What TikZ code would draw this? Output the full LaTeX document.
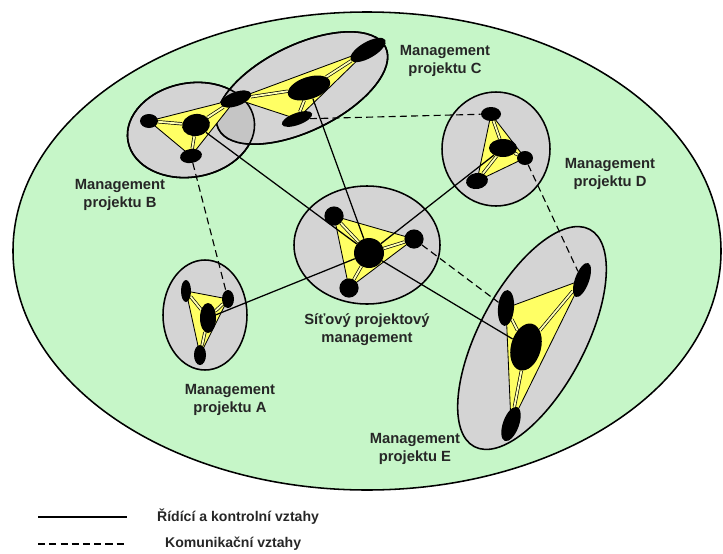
\documentclass[tikz,border=0pt]{standalone}
\usepackage{fontspec}
\setmainfont{Liberation Sans}
\usepackage{xcolor}
\usepackage{tikz}
\usetikzlibrary{backgrounds,calc,positioning,shapes.geometric}

\definecolor{areagreen}{RGB}{198,246,200}
\definecolor{ringgray}{RGB}{212,212,212}
\definecolor{teamyellow}{RGB}{255,255,100}

\begin{document}
\begin{tikzpicture}[x=0.025cm,y=-0.025cm]

\useasboundingbox (0,0) rectangle (723,553);

\tikzstyle{mydot}=[fill,shape=ellipse,inner sep=0pt,minimum width=0.48cm,minimum height=0.48cm];
\tikzstyle{ring}=[fill=ringgray,draw=black,line width=1.1pt];
\tikzstyle{team}=[fill=teamyellow,draw=black,line width=0.6pt,line join=round];
\tikzstyle{spoke}=[draw=black,line width=0.5pt,double=teamyellow!50!white,double distance=1.3pt];
\tikzstyle{ctrl}=[black,line width=0.9pt];
\tikzstyle{comm}=[black,line width=0.8pt,dash pattern=on 5pt off 3pt];
\tikzstyle{mytext}=[font=\bfseries\fontsize{10.5}{12.6}\selectfont,align=center,text=black!85];
\tikzstyle{legtext}=[font=\bfseries\fontsize{10}{12}\selectfont,text=black!85];

% projekt B
\node [mydot,minimum width=0.45cm,minimum height=0.35cm] (bl) at (149,121) {};
\node [mydot,minimum width=0.7cm,minimum height=0.55cm,rotate=10] (bm) at (196,125) {};
\node [mydot,minimum width=0.55cm,minimum height=0.35cm,rotate=10] (bb) at (191,156) {};
\node [mydot,minimum width=0.8cm,minimum height=0.35cm,rotate=20] (jbc) at (236,99) {};

% projekt C
\node [mydot,minimum width=1.1cm,minimum height=0.55cm,rotate=18] (cm) at (309,88) {};
\node [mydot,minimum width=1.0cm,minimum height=0.4cm,rotate=30] (ct) at (368,50) {};
\node [mydot,minimum width=0.8cm,minimum height=0.3cm,rotate=20] (cb) at (297,119) {};

% projekt D
\node [mydot,minimum width=0.5cm,minimum height=0.35cm] (dt) at (491,114) {};
\node [mydot,minimum width=0.7cm,minimum height=0.45cm] (dm) at (503,148) {};
\node [mydot,minimum width=0.4cm,minimum height=0.35cm] (dr) at (525,158) {};
\node [mydot,minimum width=0.55cm,minimum height=0.4cm,rotate=10] (dl) at (477,181) {};

% sitovy management
\node [mydot] (st) at (334,216) {};
\node [mydot,minimum width=0.75cm,minimum height=0.75cm] (sm) at (369,253) {};
\node [mydot] (sr) at (414,239) {};
\node [mydot] (sb) at (349,288) {};

% projekt A
\node [mydot,minimum width=0.25cm,minimum height=0.55cm] (al) at (186,291) {};
\node [mydot,minimum width=0.3cm,minimum height=0.45cm] (ar) at (228,299) {};
\node [mydot,minimum width=0.4cm,minimum height=0.75cm] (am) at (208,318) {};
\node [mydot,minimum width=0.3cm,minimum height=0.5cm] (ab) at (200,355) {};

% projekt E
\node [mydot,minimum width=0.35cm,minimum height=0.9cm,rotate=-20] (et) at (582,280) {};
\node [mydot,minimum width=0.4cm,minimum height=0.9cm,rotate=-5] (el) at (506,308) {};
\node [mydot,minimum width=0.75cm,minimum height=1.2cm,rotate=-15] (em) at (526,347) {};
\node [mydot,minimum width=0.4cm,minimum height=0.9cm,rotate=-20] (eb) at (511,424) {};

\begin{scope}[on background layer]
\draw [fill=areagreen,line width=1.1pt] (367,251) ellipse [x radius=354,y radius=239];

\draw [ring,rotate around={10:(191,130)}] (191,130) ellipse [x radius=64,y radius=47];
\draw [ring,rotate around={26:(302,88)}] (302,88) ellipse [x radius=93,y radius=43];
\begin{scope}
\clip [rotate around={26:(302,88)}] (302,88) ellipse [x radius=93,y radius=43];
\fill [ringgray!93!black,rotate around={10:(191,130)}] (191,130) ellipse [x radius=64,y radius=47];
\end{scope}
\draw [line width=1.1pt,rotate around={10:(191,130)}] (191,130) ellipse [x radius=64,y radius=47];
\draw [line width=1.1pt,rotate around={26:(302,88)}] (302,88) ellipse [x radius=93,y radius=43];
\draw [ring] (496,149) ellipse [x radius=54,y radius=57];
\draw [ring] (367,245) ellipse [x radius=73,y radius=59];
\draw [ring] (205,315) ellipse [x radius=42,y radius=55];
\draw [ring,rotate around={62:(532,338)}] (532,338) ellipse [x radius=123,y radius=53];

\filldraw [team] (bl.center) -- (jbc.center) -- (bb.center) -- cycle;
\filldraw [team] (jbc.center) -- (ct.center) -- (cb.center) -- cycle;
\filldraw [team] (dt.center) -- (dr.center) -- (dl.center) -- cycle;
\filldraw [team] (st.center) -- (sr.center) -- (sb.center) -- cycle;
\filldraw [team] (al.center) -- (ar.center) -- (ab.center) -- cycle;
\filldraw [team] (el.center) -- (et.center) -- (eb.center) -- cycle;

\draw [spoke] (bm) -- (bl) (bm) -- (jbc) (bm) -- (bb);
\draw [spoke] (cm) -- (jbc) (cm) -- (ct) (cm) -- (cb);
\draw [spoke] (dm) -- (dt) (dm) -- (dr) (dm) -- (dl);
\draw [spoke] (sm) -- (st) (sm) -- (sr) (sm) -- (sb);
\draw [spoke] (am) -- (al) (am) -- (ar) (am) -- (ab);
\draw [spoke] (em) -- (el) (em) -- (et) (em) -- (eb);

% ridici vztahy
\draw [ctrl] (bm) -- (sm);
\draw [ctrl] (cm) -- (sm);
\draw [ctrl] (dm) -- (sm);
\draw [ctrl] (am) -- (sm);
\draw [ctrl] (sm) -- (em);

% komunikacni vztahy
\draw [comm] (bb) -- (ar);
\draw [comm] (cb) -- (dt);
\draw [comm] (sr) -- (el);
\draw [comm] (dr) -- (et);
\end{scope}

\node (ctext) [mytext] at (445,61) {Management\\projektu C};
\node (btext) [mytext] at (120,195) {Management\\projektu B};
\node (dtext) [mytext] at (610,174) {Management\\projektu D};
\node (stext) [mytext] at (367,330) {Síťový projektový\\management};
\node (atext) [mytext] at (230,400) {Management\\projektu A};
\node (etext) [mytext] at (415,449) {Management\\projektu E};

% legenda
\coordinate (ctrl1) at (38,517);
\coordinate (ctrl2) at (127,517);
\draw [ctrl] (ctrl1) -- (ctrl2);
\node (ctrltext) [legtext,right=0.63cm of ctrl2] {Řídící a kontrolní vztahy};
\coordinate (comm1) at (38,544);
\coordinate (comm2) at (125,544);
\draw [comm] (comm1) -- (comm2);
\node (commtext) [legtext,right=0.88cm of comm2] {Komunikační vztahy};

\end{tikzpicture}
\end{document}
